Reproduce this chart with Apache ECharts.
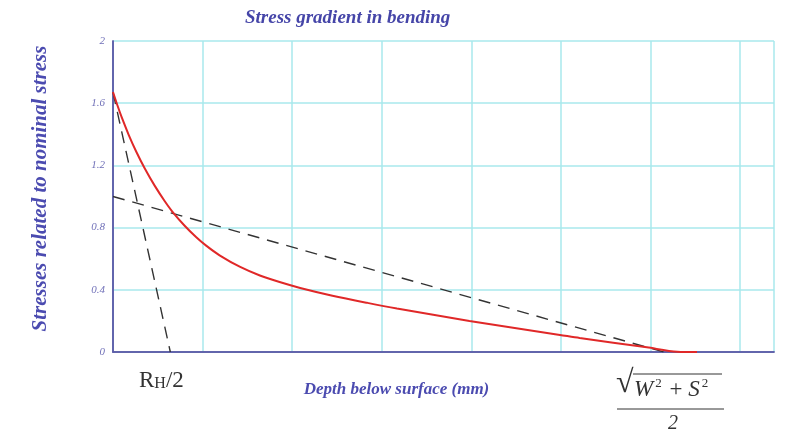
<!DOCTYPE html>
<html><head><meta charset="utf-8">
<script src="https://cdn.jsdelivr.net/npm/echarts@6/dist/echarts.min.js"></script>
<style>html,body{margin:0;padding:0;background:#fff}#c{width:795px;height:439px}</style>
</head><body><div id="c"></div>
<script>
// Red stress curve (depth, relative stress)
const stressX = [0, 0.05, 0.1, 0.175, 0.26, 0.355, 0.465, 0.58, 0.66, 0.8, 0.93, 1.04, 1.19, 1.42, 1.64, 1.86, 2.09, 2.45, 2.84, 3.17, 3.98, 4.99, 5.21, 5.96, 6.3, 6.52];
const stressY = [1.672, 1.585, 1.505, 1.397, 1.288, 1.180, 1.070, 0.968, 0.905, 0.812, 0.738, 0.684, 0.622, 0.547, 0.492, 0.450, 0.412, 0.362, 0.316, 0.280, 0.200, 0.110, 0.090, 0.030, 0.002, 0.0];
// Steep dashed tangent
const steepX = [0, 0.64];
const steepY = [1.67, 0];
// Shallow dashed line
const shallowX = [0, 6.15];
const shallowY = [1.0, 0];
const yTicks = [0, 0.4, 0.8, 1.2, 1.6, 2];

const zip = (a, b) => a.map((v, i) => [v, b[i]]);
const chart = echarts.init(document.getElementById('c'));
const serif = '"Liberation Serif","DejaVu Serif",serif';
const blue = '#4b4bb0';
const frame = { show: true, lineStyle: { color: '#5c5ca8', width: 1.5 } };
const grid = { show: true, lineStyle: { color: '#a8e8ec', width: 1.5 } };
chart.setOption({
  animation: false,
  title: {
    text: 'Stress gradient in bending', left: 240, top: 4,
    textStyle: { fontFamily: serif, fontStyle: 'italic', fontWeight: 'bold', fontSize: 19, color: '#4545a8' }
  },
  grid: { left: 113, top: 41, right: 21, bottom: 87 },
  xAxis: [{
    type: 'value', min: 0, max: 7.38, interval: 1,
    axisLine: frame, axisTick: { show: false }, axisLabel: { show: false },
    splitLine: grid,
    name: 'Depth below surface (mm)', nameLocation: 'middle', nameGap: 29,
    nameTextStyle: { fontFamily: serif, fontStyle: 'italic', fontWeight: 'bold', fontSize: 17, color: blue, padding: [0, 0, 0, -94] }
  }, {
    type: 'value', position: 'top', min: 0, max: 7.38, interval: 1,
    axisLine: frame, axisTick: { show: false }, axisLabel: { show: false }, splitLine: { show: false }
  }],
  yAxis: [{
    type: 'value', min: 0, max: 2, interval: 0.4,
    axisLine: frame, axisTick: { show: false },
    axisLabel: { fontFamily: serif, fontStyle: 'italic', fontSize: 11, color: '#7070b8', margin: 8,
      formatter: v => { const t = yTicks.find(k => Math.abs(k - v) < 1e-6); return t === undefined ? '' : String(t); } },
    splitLine: grid,
    name: 'Stresses related to nominal stress', nameLocation: 'middle', nameGap: 62,
    nameTextStyle: { fontFamily: serif, fontStyle: 'italic', fontWeight: 'bold', fontSize: 21, color: blue, padding: [0, 0, 0, 16] }
  }, {
    type: 'value', position: 'right', min: 0, max: 2, interval: 0.4,
    axisLine: frame, axisTick: { show: false }, axisLabel: { show: false }, splitLine: { show: false }
  }],
  series: [
    { type: 'line', data: zip(shallowX, shallowY), showSymbol: false,
      lineStyle: { color: '#333', width: 1.4, type: [12, 8] } },
    { type: 'line', data: zip(steepX, steepY), showSymbol: false,
      lineStyle: { color: '#333', width: 1.4, type: [12, 8] } },
    { type: 'line', data: zip(stressX, stressY), showSymbol: false, smooth: 0.3,
      lineStyle: { color: '#e02828', width: 2 } }
  ],
  graphic: [
    { type: 'text', left: 139, top: 369, style: {
      text: '{r|R}{h|H}{r|/2}', rich: {
        r: { fontFamily: serif, fontSize: 23, fill: '#333' },
        h: { fontFamily: serif, fontSize: 16, fill: '#333', verticalAlign: 'bottom', padding: [7, 0, 0, 0] } } } },
    { type: 'text', left: 616, top: 368, style: { text: '√', fontFamily: serif, fontSize: 32, fill: '#333' } },
    { type: 'line', shape: { x1: 633, y1: 374, x2: 722, y2: 374 }, style: { stroke: '#333', lineWidth: 1 } },
    { type: 'text', left: 634, top: 377, style: {
      text: '{i|W}{s|2}{o| + }{i|S}{s|2}', rich: {
        i: { fontFamily: serif, fontStyle: 'italic', fontSize: 23, fill: '#333' },
        o: { fontFamily: serif, fontSize: 23, fill: '#333' },
        s: { fontFamily: serif, fontSize: 13, fill: '#333', verticalAlign: 'top', padding: [0, 2, 12, 2] } } } },
    { type: 'line', shape: { x1: 617, y1: 409, x2: 724, y2: 409 }, style: { stroke: '#333', lineWidth: 1 } },
    { type: 'text', left: 668, top: 414, style: { text: '2', fontFamily: serif, fontStyle: 'italic', fontSize: 20, fill: '#333' } }
  ]
});
</script></body></html>
